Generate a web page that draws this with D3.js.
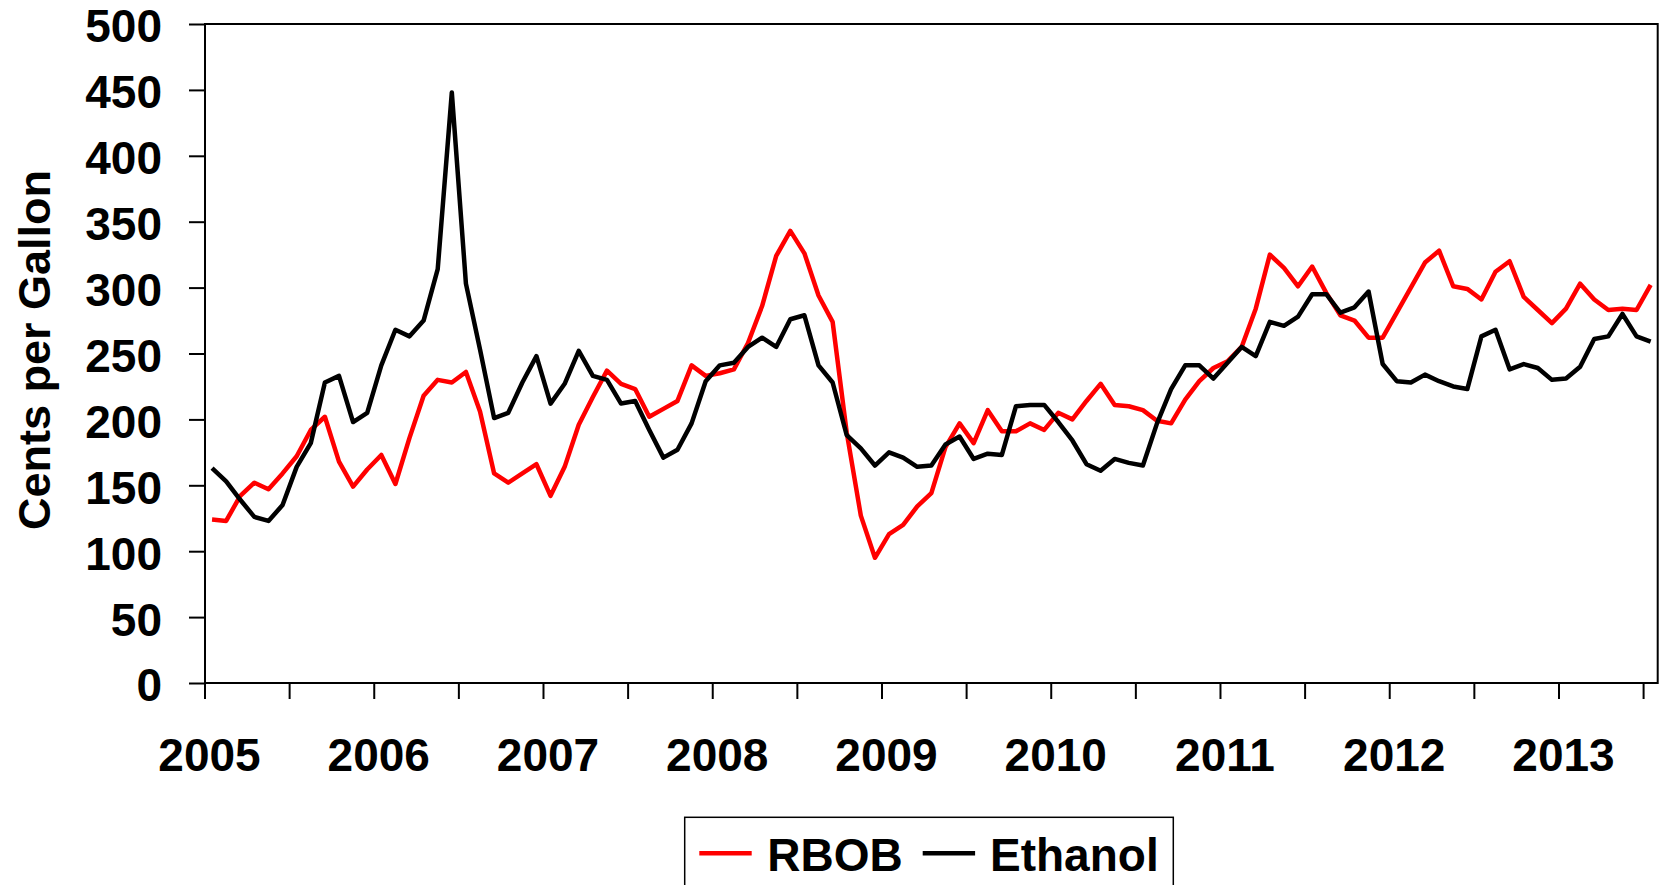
<!DOCTYPE html>
<html>
<head>
<meta charset="utf-8">
<script src="https://cdn.jsdelivr.net/npm/d3@7"></script>
<style>
  body { margin: 0; background: #fff; }
  text { font-family: "Liberation Sans", Arial, sans-serif; font-weight: bold; }
</style>
</head>
<body>
<div id="container"><svg></svg></div>
<script>
// monthly values, Jan 2005 .. Jul 2013 (cents per gallon)
let years = ['2005', '2006', '2007', '2008', '2009', '2010', '2011', '2012', '2013'];
let yTicks = [0, 50, 100, 150, 200, 250, 300, 350, 400, 450, 500];

let rbob = [
    124, 123, 142, 152, 147, 159, 172, 192, 202, 168, 149, 162,
    173, 151, 186, 218, 230, 228, 236, 206, 159, 152, 159, 166,
    142, 164, 196, 217, 237, 227, 223, 202, 208, 214, 241, 233,
    235, 238, 258, 286, 324, 343, 326, 294, 274, 190, 127, 95,
    113, 120, 134, 144, 179, 197, 182, 207, 191, 191, 197, 192,
    205, 200, 214, 227, 211, 210, 207, 199, 197, 215, 229, 239,
    244, 255, 284, 325, 315, 301, 316, 296, 279, 275, 262, 262,
    281, 300, 319, 328, 301, 299, 291, 312, 320, 293, 283, 273,
    284, 303, 291, 283, 284, 283, 302
];
let ethanol = [
    163, 153, 139, 126, 123, 135, 164, 182, 228, 233, 198, 205,
    241, 268, 263, 275, 314, 448, 303, 253, 201, 205, 228, 248,
    212, 227, 252, 233, 230, 212, 214, 192, 171, 177, 197, 229,
    241, 243, 255, 262, 255, 276, 279, 241, 228, 188, 178, 165,
    175, 171, 164, 165, 181, 187, 170, 174, 173, 210, 211, 211,
    198, 184, 166, 161, 170, 167, 165, 197, 223, 241, 241, 231,
    243, 255, 248, 274, 271, 278, 295, 295, 281, 285, 297, 242,
    229, 228, 234, 229, 225, 223, 263, 268, 238, 242, 239, 230,
    231, 240, 261, 263, 280, 263, 259
];

let width = 1663;
let height = 885;
let margin = { left: 205, right: 5.3, top: 24, bottom: 202 };

function draw_chart() {
    let svg = d3.select('#container').select('svg')
        .attr('width', width)
        .attr('height', height);

    let idx = d3.range(rbob.length);

    // category axis, points sit in the middle of each month
    let x = d3.scaleBand()
        .domain(idx)
        .range([margin.left, width - margin.right])
        .paddingInner(0).paddingOuter(0);
    let y = d3.scaleLinear()
        .domain([0, 500])
        .range([height - margin.bottom, margin.top]);

    let cx = i => x(i) + x.bandwidth() / 2;
    let x0 = margin.left, x1 = width - margin.right;
    let y0 = y(0), y1 = y(500);

    // y axis
    let yAxis = svg.append('g')
        .attr('transform', `translate(${x0},0)`)
        .call(d3.axisLeft(y).tickValues(yTicks).tickSize(16).tickPadding(27));
    yAxis.select('.domain').remove();
    yAxis.selectAll('.tick line').attr('stroke', '#000').attr('stroke-width', 2);
    yAxis.selectAll('.tick text')
        .attr('font-size', 46)
        .attr('dy', '0.39em')
        .attr('fill', '#000');

    // x ticks every 6 months
    let tickIdx = idx.filter(i => i % 6 === 0);
    svg.append('g')
        .selectAll('line')
        .data(tickIdx)
        .join('line')
        .attr('x1', d => x(d)).attr('x2', d => x(d))
        .attr('y1', y0).attr('y2', y0 + 16)
        .attr('stroke', '#000')
        .attr('stroke-width', 2);

    // year labels
    svg.append('g')
        .selectAll('text')
        .data(years)
        .join('text')
        .attr('x', (d, k) => x(k * 12) + x.bandwidth() * 0.32)
        .attr('y', 771)
        .attr('text-anchor', 'middle')
        .attr('font-size', 46)
        .text(d => d);

    // plot frame
    svg.append('rect')
        .attr('x', x0).attr('y', y1)
        .attr('width', x1 - x0).attr('height', y0 - y1)
        .attr('fill', 'none')
        .attr('stroke', '#000')
        .attr('stroke-width', 2);

    // lines
    let line = d3.line().x((d, i) => cx(i)).y(d => y(d));
    svg.append('path')
        .datum(rbob)
        .attr('d', line)
        .attr('fill', 'none')
        .attr('stroke', '#ff0000')
        .attr('stroke-width', 4.5)
        .attr('stroke-linejoin', 'round');
    svg.append('path')
        .datum(ethanol)
        .attr('d', line)
        .attr('fill', 'none')
        .attr('stroke', '#000')
        .attr('stroke-width', 4.5)
        .attr('stroke-linejoin', 'round');

    // y title
    svg.append('text')
        .attr('transform', 'translate(50,350) rotate(-90)')
        .attr('text-anchor', 'middle')
        .attr('font-size', 45)
        .text('Cents per Gallon');

    // legend
    let lg = svg.append('g');
    lg.append('rect')
        .attr('x', 684.7).attr('y', 817.3)
        .attr('width', 488.6).attr('height', 90)
        .attr('fill', '#fff')
        .attr('stroke', '#000')
        .attr('stroke-width', 1.5);
    let items = [
        { name: 'RBOB', color: '#ff0000', lx: 699.3, tx: 767.3 },
        { name: 'Ethanol', color: '#000', lx: 922.7, tx: 990 }
    ];
    items.forEach(it => {
        lg.append('line')
            .attr('x1', it.lx).attr('x2', it.lx + 52.4)
            .attr('y1', 853.3).attr('y2', 853.3)
            .attr('stroke', it.color)
            .attr('stroke-width', 4.5);
        lg.append('text')
            .attr('x', it.tx).attr('y', 870.5)
            .attr('font-size', 46)
            .text(it.name);
    });
}

draw_chart();
</script>
</body>
</html>
